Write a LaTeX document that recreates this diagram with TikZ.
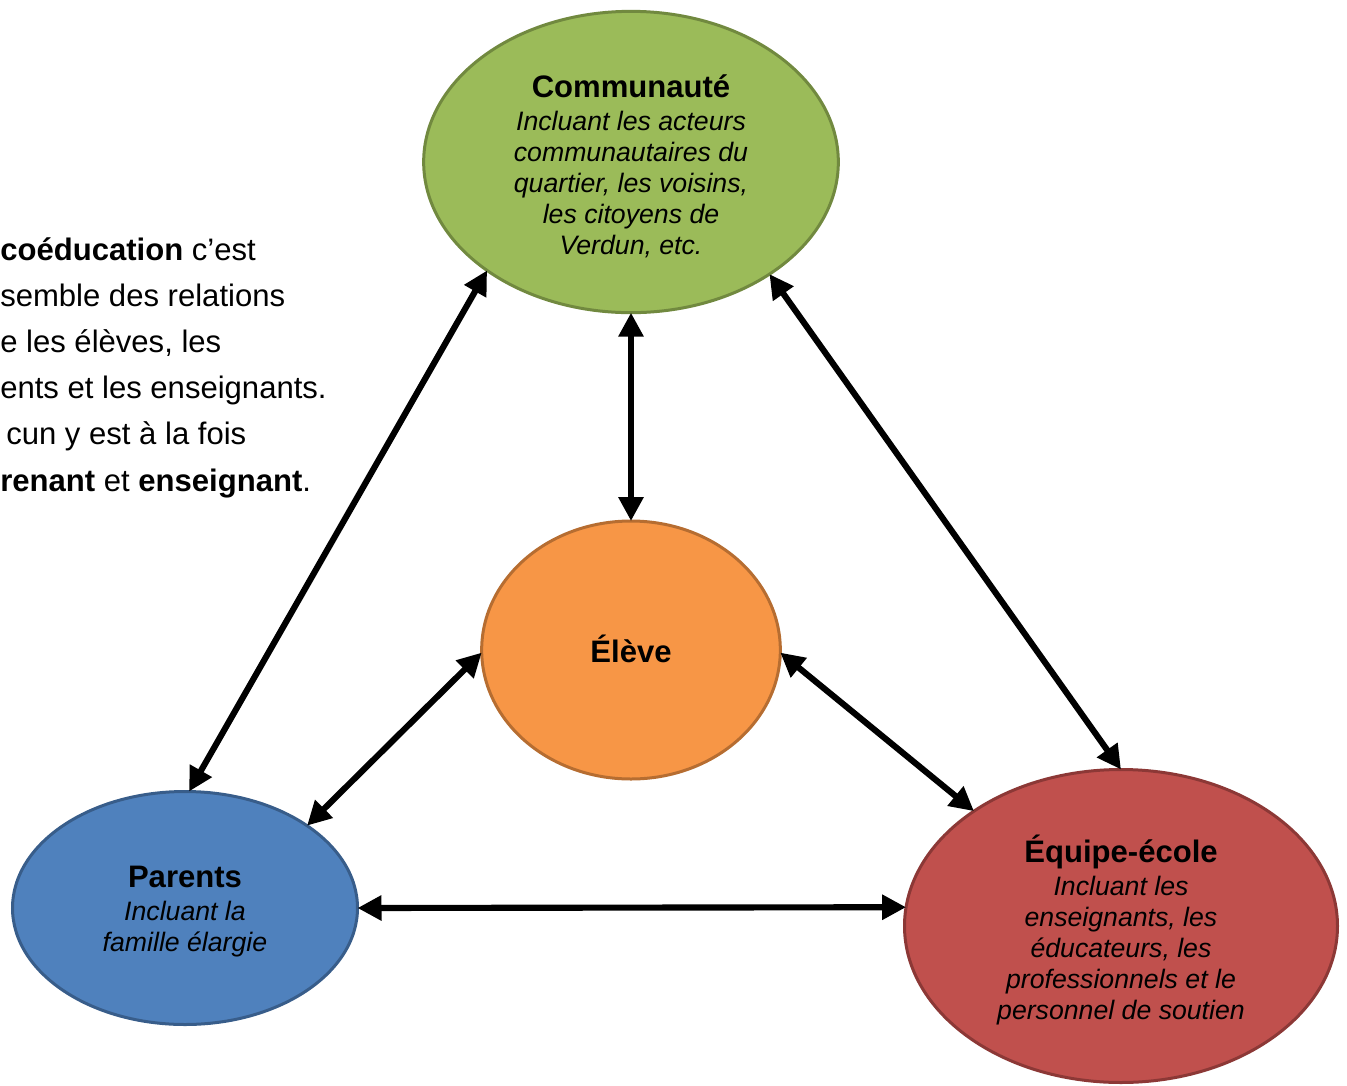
\documentclass[tikz,border=0pt]{standalone}
\usepackage{fontspec}
\setmainfont{Liberation Sans}
\usetikzlibrary{shapes.geometric,arrows.meta}
\definecolor{gfill}{HTML}{9BBB59}\definecolor{gdraw}{HTML}{71893F}
\definecolor{ofill}{HTML}{F79646}\definecolor{odraw}{HTML}{B66D31}
\definecolor{bfill}{HTML}{4F81BD}\definecolor{bdraw}{HTML}{385D8A}
\definecolor{rfill}{HTML}{C0504D}\definecolor{rdraw}{HTML}{8C3836}
\tikzset{
  bubble/.style={ellipse, inner sep=0pt, outer sep=0pt, line width=2.25pt},
  btext/.style={inner sep=0pt, align=center, yshift=-3pt, font=\fontsize{20}{23.25}\selectfont},
  link/.style={line width=4.6pt, {Triangle[length=18pt,width=18pt]}-{Triangle[length=18pt,width=18pt]}},
  side/.style={anchor=base west, inner sep=0pt, font=\fontsize{23.3}{27}\selectfont},
}
\newcommand{\ttl}[1]{{\bfseries\fontsize{23.3}{27}\selectfont #1}}
\begin{document}
\begin{tikzpicture}[x=0.75pt,y=-0.75pt]
\useasboundingbox (0,0) rectangle (1347,1086);
\clip (0,0) rectangle (1347,1086);
\node[bubble, fill=gfill, draw=gdraw, minimum width=311pt, minimum height=226pt] (comm) at (631,162) {};
\node[bubble, fill=ofill, draw=odraw, minimum width=224pt, minimum height=193.5pt] (eleve) at (631,650) {};
\node[bubble, fill=bfill, draw=bdraw, minimum width=258.75pt, minimum height=174.75pt] (par) at (185,908) {};
\node[bubble, fill=rfill, draw=rdraw, minimum width=324.75pt, minimum height=234.75pt] (equ) at (1121,926) {};

\node[btext] (commt) at (comm.center)
  {\ttl{Communauté}\\[1.5pt] \itshape Incluant les acteurs\\ \itshape communautaires du\\ \itshape quartier, les voisins,\\ \itshape les citoyens de\\ \itshape Verdun, etc.};
\node[btext, yshift=4pt] (elevet) at (eleve.center) {\ttl{Élève}};
\node[btext] (part) at (par.center)
  {\ttl{Parents}\\[1.5pt] \itshape Incluant la\\ \itshape famille élargie};
\node[btext] (equt) at (equ.center)
  {\ttl{Équipe-école}\\[1.5pt] \itshape Incluant les\\ \itshape enseignants, les\\ \itshape éducateurs, les\\ \itshape professionnels et le\\ \itshape personnel de soutien};

\draw[link] (comm.270) -- (eleve.90);
\draw[link] (comm.217.9) -- (par.88.6);
\draw[link] (comm.321.8) -- (equ.90.7);
\draw[link] (eleve.181) -- (par.34.5);
\draw[link] (eleve.359) -- (equ.142.7);
\draw[link] (par.0) -- (equ.175.3);

\node[side] (t1) at (0,260) {\bfseries coéducation\mdseries{} c’est};
\node[side] (t2) at (0,306) {semble des relations};
\node[side] (t3) at (0,352) {e les élèves, les};
\node[side] (t4) at (0,398) {ents et les enseignants.};
\node[side] (t5) at (6,444) {cun y est à la fois};
\node[side] (t6) at (0,491) {\bfseries renant\mdseries{} et \bfseries enseignant\mdseries{}.};
\end{tikzpicture}
\end{document}
